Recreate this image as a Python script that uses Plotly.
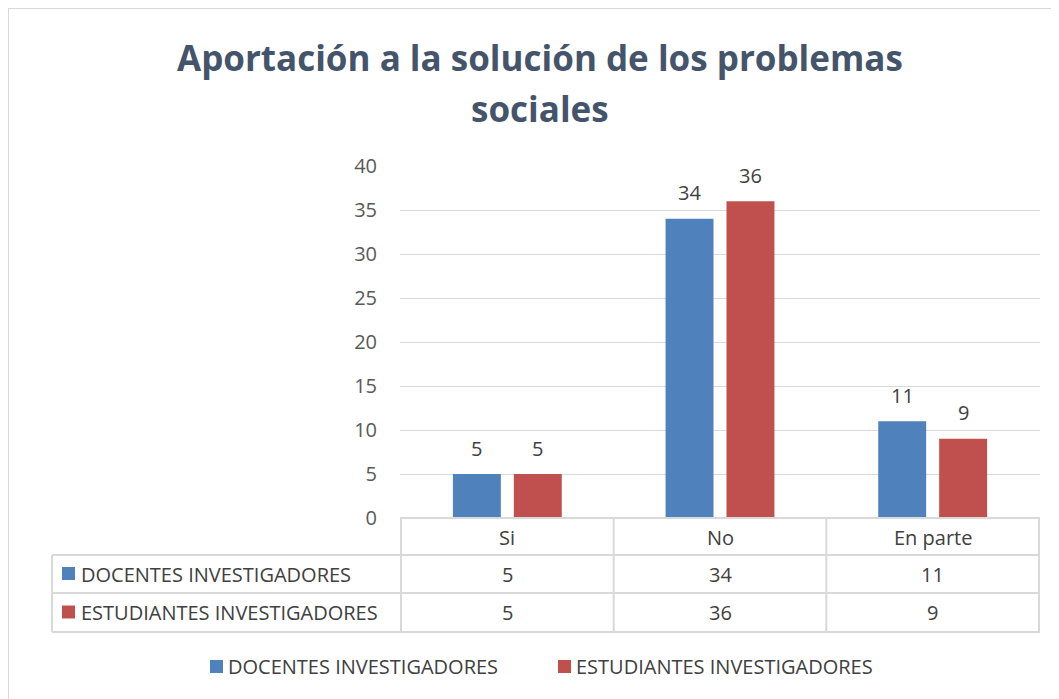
import plotly.graph_objects as go

categories = ["Si", "No", "En parte"]
series_names = ["DOCENTES INVESTIGADORES", "ESTUDIANTES INVESTIGADORES"]
docentes = [5, 34, 11]
estudiantes = [5, 36, 9]
colors = ["#4F81BD", "#C0504D"]
y_ticks = [0, 5, 10, 15, 20, 25, 30, 35, 40]
title_lines = ["Aportación a la solución de los problemas", "sociales"]

O = 8  # page body margin offset
W, H = 1059 - O, 699 - O
L, R, T, B = 400, 1040, 166, 518  # plot area in screen pixels
FONT = "Open Sans, sans-serif"
GRID = "#D9D9D9"
TXT = "#404040"
FS = 20
BAR_SHIFT = 30.5


def px(xp):
    return (xp - L) / (R - L)


def py(yp):
    return (B - yp) / (B - T)


fig = go.Figure()
for name, vals, col in zip(series_names, [docentes, estudiantes], colors):
    fig.add_trace(go.Bar(
        x=categories, y=vals, name=name, marker=dict(color=col, line=dict(width=0)),
        showlegend=False,
    ))

shapes = []
# chart border
shapes.append(dict(type="line", xref="paper", yref="paper", x0=px(8), x1=px(1060), y0=py(8), y1=py(8),
                   line=dict(color=GRID, width=2)))
shapes.append(dict(type="line", xref="paper", yref="paper", x0=px(8), x1=px(8), y0=py(8), y1=py(700),
                   line=dict(color=GRID, width=2)))
# table horizontal lines
row_y = [518, 555, 593, 632]
for i, yy in enumerate(row_y):
    x0 = L if i == 0 else 52
    shapes.append(dict(type="line", xref="paper", yref="paper", x0=px(x0), x1=px(R), y0=py(yy), y1=py(yy),
                       line=dict(color=GRID, width=2)))
# table vertical lines
for k in range(len(categories) + 1):
    shapes.append(dict(type="line", xref="x", yref="paper", x0=k - 0.5, x1=k - 0.5, y0=py(518), y1=py(632),
                       line=dict(color=GRID, width=2)))
shapes.append(dict(type="line", xref="paper", yref="paper", x0=px(52), x1=px(52), y0=py(555), y1=py(632),
                   line=dict(color=GRID, width=2)))

annotations = []
# title
for line, yy in zip(title_lines, [58, 108]):
    annotations.append(dict(text="<b>" + line + "</b>", xref="paper", yref="paper",
                            x=px(540), y=py(yy), showarrow=False, xanchor="center", yanchor="middle",
                            font=dict(size=35, color="#44546A", family=FONT)))
# bar value labels
for vals, shift in zip([docentes, estudiantes], [-BAR_SHIFT, BAR_SHIFT]):
    for c, v in zip(categories, vals):
        annotations.append(dict(text=str(v), xref="x", yref="y", x=c, y=v, xshift=shift, yshift=26,
                                showarrow=False, xanchor="center", yanchor="middle",
                                font=dict(size=FS, color=TXT, family=FONT)))
# header row categories
for c in categories:
    annotations.append(dict(text=c, xref="x", yref="paper", x=c, y=py(537), showarrow=False,
                            xanchor="center", yanchor="middle",
                            font=dict(size=FS, color=TXT, family=FONT)))
# data rows
for r, (name, vals, col) in enumerate(zip(series_names, [docentes, estudiantes], colors)):
    yc = (row_y[r + 1] + row_y[r + 2]) / 2
    shapes.append(dict(type="rect", xref="paper", yref="paper", x0=px(62), x1=px(75), y0=py(yc + 6), y1=py(yc - 7),
                       fillcolor=col, line=dict(width=0)))
    annotations.append(dict(text=name, xref="paper", yref="paper", x=px(79), y=py(yc), showarrow=False,
                            xanchor="left", yanchor="middle", font=dict(size=FS, color=TXT, family=FONT)))
    for c, v in zip(categories, vals):
        annotations.append(dict(text=str(v), xref="x", yref="paper", x=c, y=py(yc), showarrow=False,
                                xanchor="center", yanchor="middle",
                                font=dict(size=FS, color=TXT, family=FONT)))
# legend
leg_x = [210, 558]
for name, col, lx in zip(series_names, colors, leg_x):
    shapes.append(dict(type="rect", xref="paper", yref="paper", x0=px(lx), x1=px(lx + 13), y0=py(673), y1=py(660),
                       fillcolor=col, line=dict(width=0)))
    annotations.append(dict(text=name, xref="paper", yref="paper", x=px(lx + 16), y=py(666), showarrow=False,
                            xanchor="left", yanchor="middle", font=dict(size=FS, color=TXT, family=FONT)))

fig.update_layout(
    width=W, height=H,
    margin=dict(l=L - O, r=W - (R - O), t=T - O, b=H - (B - O), pad=0),
    paper_bgcolor="white", plot_bgcolor="white",
    barmode="group", bargap=0.427, bargroupgap=0.213,
    showlegend=False,
    xaxis=dict(showticklabels=False, showgrid=False, zeroline=False, showline=False, ticks=""),
    yaxis=dict(range=[0, 40], tickvals=y_ticks, showgrid=True, gridcolor=GRID, gridwidth=1,
               zeroline=False, showline=False, ticks="", ticklabelstandoff=22,
               tickfont=dict(size=FS, color="#595959", family=FONT)),
    shapes=shapes, annotations=annotations,
    font=dict(family=FONT),
)

fig.write_html("out.html")
